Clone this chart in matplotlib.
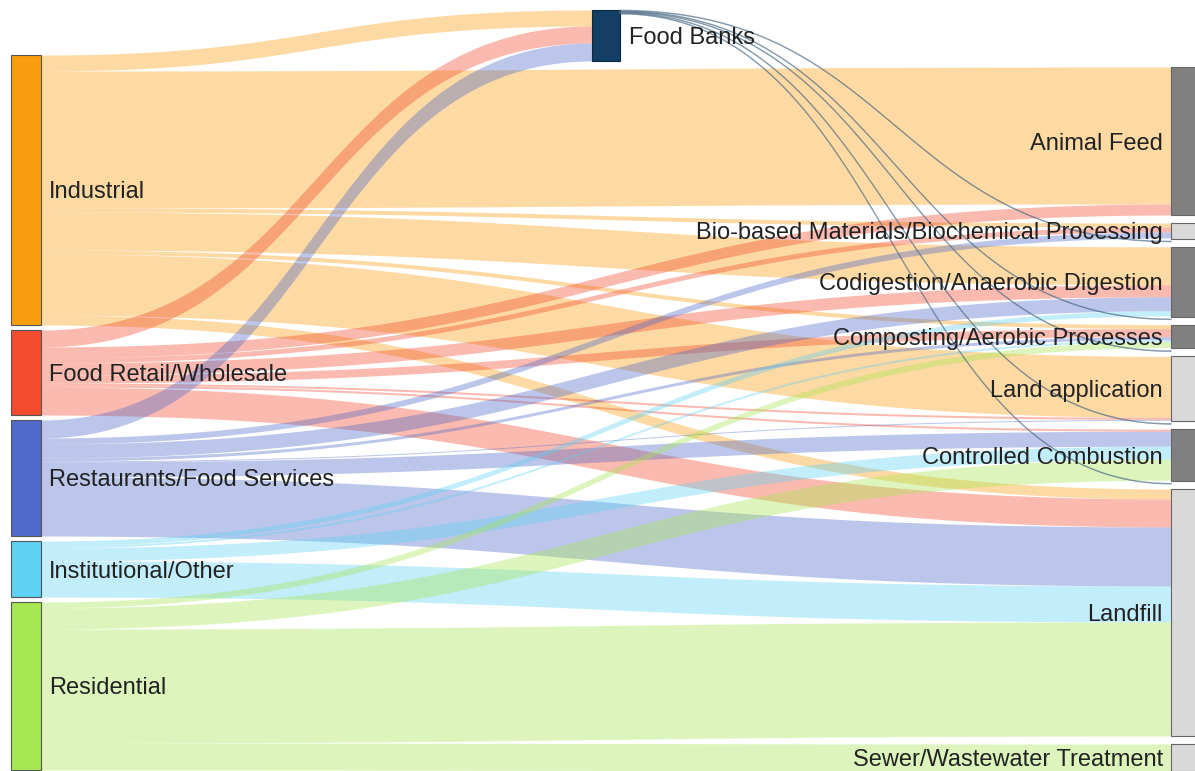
import numpy as np
import matplotlib.pyplot as plt
from matplotlib.patches import Rectangle

plt.rcParams['font.family'] = ['Liberation Sans', 'DejaVu Sans']

# Nodes
sources = ['Industrial', 'Food Retail/Wholesale', 'Restaurants/Food Services',
           'Institutional/Other', 'Residential']
source_colors = ['#fb9d0e', '#f24b2e', '#5169c9', '#5fd1f3', '#a7e752']
hub = 'Food Banks'
hub_color = '#123f63'
targets = ['Animal Feed', 'Bio-based Materials/Biochemical Processing',
           'Codigestion/Anaerobic Digestion', 'Composting/Aerobic Processes',
           'Land application', 'Controlled Combustion', 'Landfill',
           'Sewer/Wastewater Treatment']
target_colors = ['#808080', '#d9d9d9', '#808080', '#808080',
                 '#d9d9d9', '#808080', '#d9d9d9', '#d9d9d9']

# Flows (arbitrary units)
to_food_banks = [16, 17, 18, 0, 0]
industrial = [137, 4, 38, 4, 61, 0, 10, 0]
retail = [11, 5, 12, 8, 2, 2, 28, 0]
restaurants = [0, 6, 14, 3, 1, 15, 59, 0]
institutional = [0, 0, 5, 2, 0, 13, 36, 0]
residential = [0, 0, 0, 6, 0, 21, 114, 27]
food_banks_out = [0, 0.8, 0.8, 0.8, 0.8, 0.8, 0, 0]

direct = np.array([industrial, retail, restaurants, institutional, residential], dtype=float)
fb_in = np.array(to_food_banks, dtype=float)
fb_out = np.array(food_banks_out, dtype=float)

# Layout
scale = 1.0
left_x, mid_x, right_x = 11, 592, 1171
node_w = 30
left_top, left_gap = 55, 5
right_top, right_gap = 67, 8
hub_top = 10

src_h = (direct.sum(axis=1) + fb_in) * scale
tgt_h = (direct.sum(axis=0) + fb_out) * scale
hub_h = max(fb_in.sum(), fb_out.sum()) * scale

src_y = left_top + np.concatenate([[0], np.cumsum(src_h + left_gap)[:-1]])
tgt_y = right_top + np.concatenate([[0], np.cumsum(tgt_h + right_gap)[:-1]])


def band(ax, x0, x1, ya, yb, w, color, alpha):
    t = np.linspace(0, 1, 100)
    xm = (x0 + x1) / 2
    x = (1 - t)**3 * x0 + 3 * (1 - t)**2 * t * xm + 3 * (1 - t) * t**2 * xm + t**3 * x1
    s = 3 * (1 - t) * t**2 + t**3
    y = ya + (yb - ya) * s
    ax.fill_between(x, y, y + w, color=color, alpha=alpha, linewidth=0)
    return x, y


fig = plt.figure(figsize=(11.95, 7.71), dpi=100)
ax = fig.add_axes([0, 0, 1, 1])
ax.set_xlim(0, 1195)
ax.set_ylim(771, 0)
ax.axis('off')

src_off = src_y.copy()
tgt_off = tgt_y.copy()
hub_in_off = hub_top
hub_out_off = hub_top

# source links: Food Banks first, then the right-hand nodes
for i in range(len(sources)):
    if fb_in[i] > 0:
        w = fb_in[i] * scale
        band(ax, left_x + node_w, mid_x, src_off[i], hub_in_off, w, source_colors[i], 0.38)
        src_off[i] += w
        hub_in_off += w
    for j in range(len(targets)):
        if direct[i, j] > 0:
            w = direct[i, j] * scale
            band(ax, left_x + node_w, right_x, src_off[i], tgt_off[j], w, source_colors[i], 0.38)
            src_off[i] += w
            tgt_off[j] += w

# Food Banks outflows, thin lines at the bottom of each target
for j in range(len(targets)):
    if fb_out[j] > 0:
        w = fb_out[j] * scale
        x, y = band(ax, mid_x + 28, right_x, hub_out_off, tgt_off[j] + 3, w, hub_color, 0.3)
        ax.plot(x, y + w / 2, color='#4d6b84', lw=1.0, alpha=0.6)
        hub_out_off += w
        tgt_off[j] += w

# nodes
dy = 2.5  # baseline nudge so labels sit like the original
for i, name in enumerate(sources):
    ax.add_patch(Rectangle((left_x, src_y[i]), node_w, src_h[i], facecolor=source_colors[i],
                           edgecolor='#555555', linewidth=0.8))
    ax.text(left_x + node_w + 8, src_y[i] + src_h[i] / 2 + dy, name, fontsize=17,
            color='#222222', va='center', ha='left')

ax.add_patch(Rectangle((mid_x, hub_top), 28, hub_h, facecolor=hub_color,
                       edgecolor='#0b2a44', linewidth=0.8))
ax.text(mid_x + 28 + 9, hub_top + hub_h / 2 + dy, hub, fontsize=17, color='#222222',
        va='center', ha='left')

for j, name in enumerate(targets):
    ax.add_patch(Rectangle((right_x, tgt_y[j]), node_w, tgt_h[j], facecolor=target_colors[j],
                           edgecolor='#666666', linewidth=0.8))
    ax.text(right_x - 8, tgt_y[j] + tgt_h[j] / 2 + dy, name, fontsize=17, color='#222222',
            va='center', ha='right')

plt.savefig('out.png', dpi=100)
